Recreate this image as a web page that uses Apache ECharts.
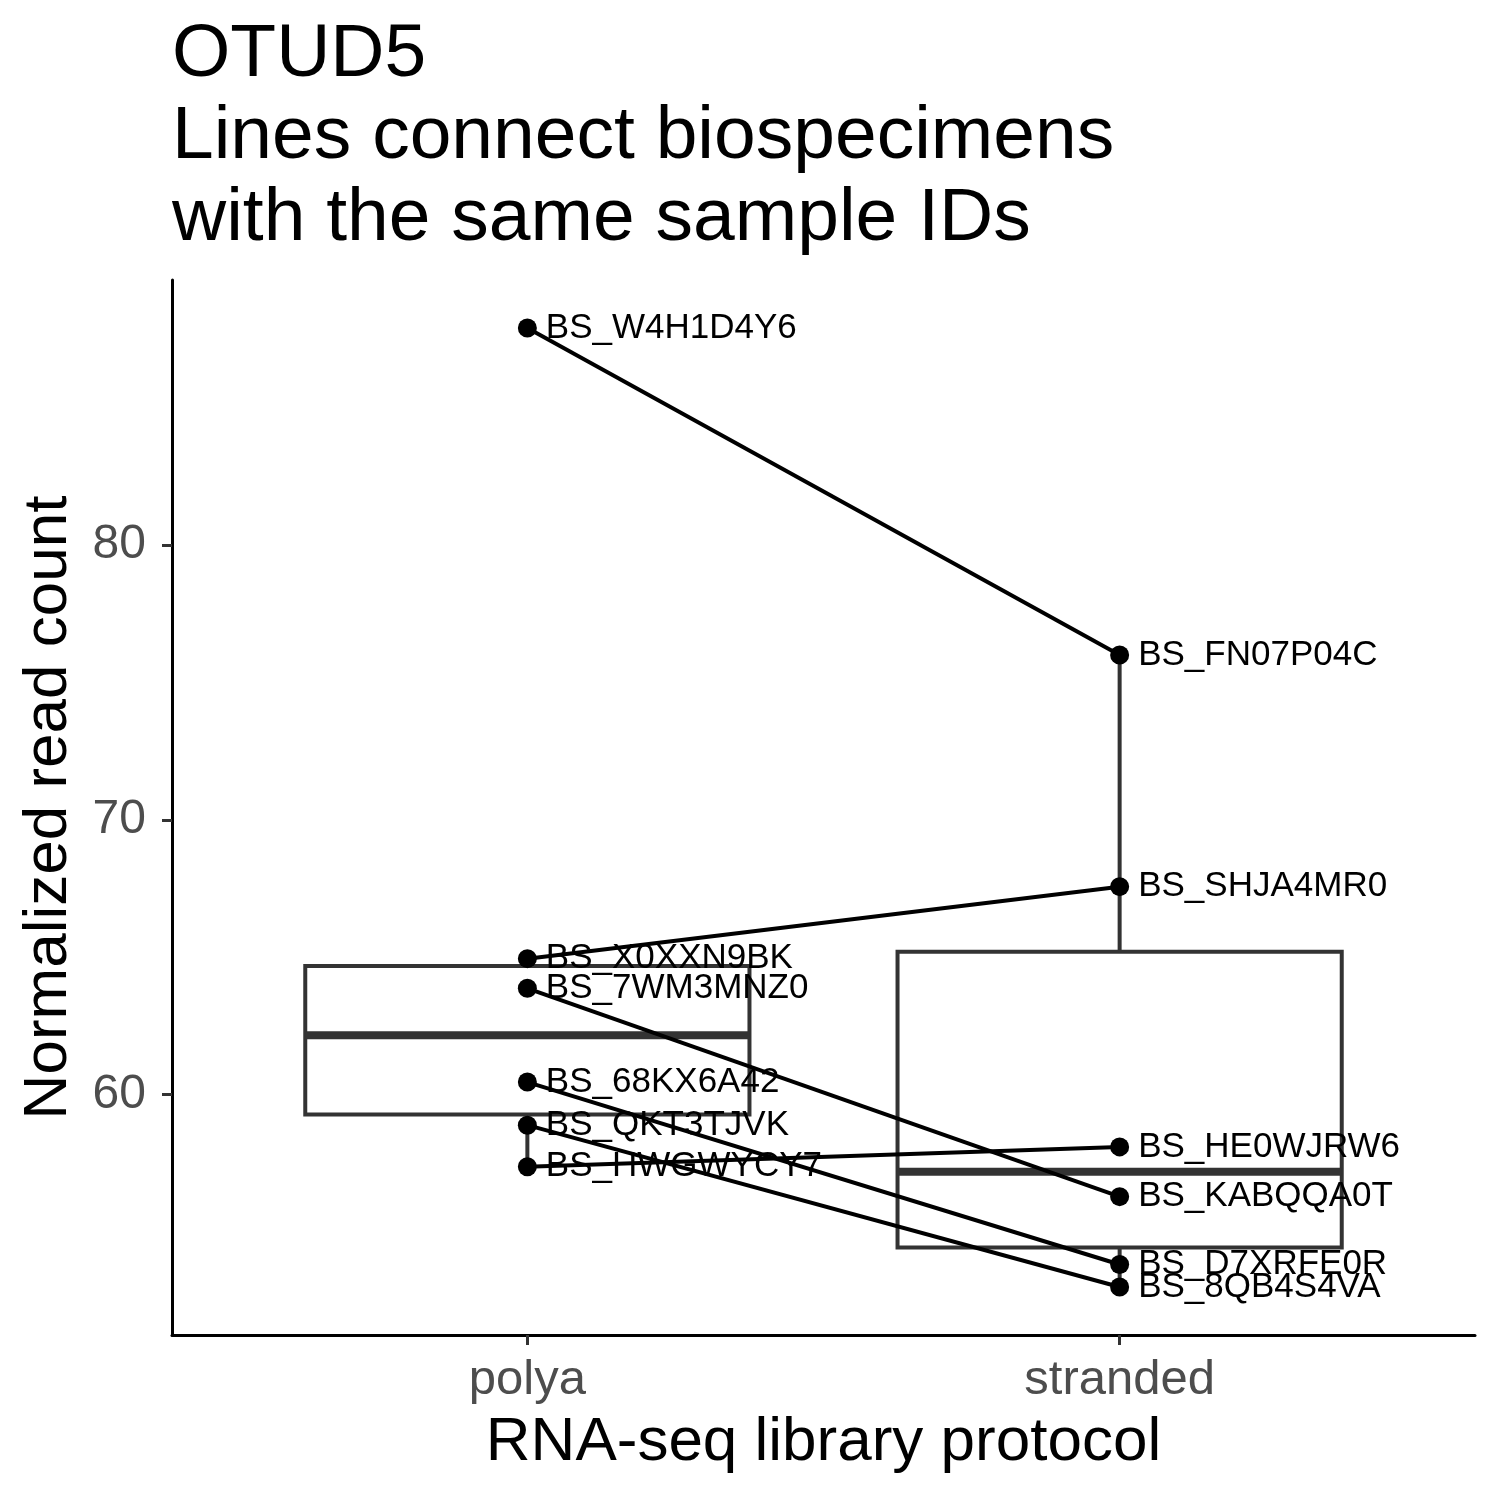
<!DOCTYPE html>
<html>
<head>
<meta charset="utf-8">
<script src="https://cdn.jsdelivr.net/npm/echarts@6/dist/echarts.min.js"></script>
<style>
html,body{margin:0;padding:0;background:#fff;}
#chart{width:1500px;height:1500px;}
</style>
</head>
<body>
<div id="chart"></div>
<script>
// ---- data ----
const categories = ['polya', 'stranded'];
const polyaIds = ['BS_W4H1D4Y6', 'BS_X0XXN9BK', 'BS_7WM3MNZ0', 'BS_68KX6A42', 'BS_QKT3TJVK', 'BS_HWGWYCY7'];
const polyaValues = [87.9, 64.95, 63.87, 60.46, 58.89, 57.38];
// stranded biospecimens paired (same index) with the polya ones
const strandedIds = ['BS_FN07P04C', 'BS_SHJA4MR0', 'BS_KABQQA0T', 'BS_D7XRFE0R', 'BS_8QB4S4VA', 'BS_HE0WJRW6'];
const strandedValues = [76.0, 67.57, 56.29, 53.82, 53.0, 58.1];
const yTicks = [60, 70, 80];
const xTicks = [1, 2];

const FONT = '"Liberation Sans", Arial, Helvetica, sans-serif';

function quantile(sorted, p) {
  const h = (sorted.length - 1) * p;
  const lo = Math.floor(h);
  const hiV = sorted[Math.min(lo + 1, sorted.length - 1)];
  return sorted[lo] + (h - lo) * (hiV - sorted[lo]);
}
function boxStats(x, values) {
  const s = values.slice().sort((a, b) => a - b);
  const q1 = quantile(s, 0.25), med = quantile(s, 0.5), q3 = quantile(s, 0.75);
  const iqr = q3 - q1;
  const lo = Math.min(...s.filter(v => v >= q1 - 1.5 * iqr));
  const hi = Math.max(...s.filter(v => v <= q3 + 1.5 * iqr));
  return [x, lo, q1, med, q3, hi];
}
const boxData = [boxStats(1, polyaValues), boxStats(2, strandedValues)];

const allVals = polyaValues.concat(strandedValues);
const dMin = Math.min(...allVals), dMax = Math.max(...allVals);
const pad = (dMax - dMin) * 0.05;

const pointData = [];
polyaIds.forEach((id, i) => pointData.push({ value: [1, polyaValues[i]], name: id }));
strandedIds.forEach((id, i) => pointData.push({ value: [2, strandedValues[i]], name: id }));

const pairSeries = polyaIds.map((id, i) => ({
  type: 'line',
  data: [[1, polyaValues[i]], [2, strandedValues[i]]],
  symbol: 'none',
  lineStyle: { color: '#000', width: 4, opacity: 1 },
  z: 3,
  silent: true,
  animation: false
}));

const chart = echarts.init(document.getElementById('chart'), null, { renderer: 'canvas' });
chart.setOption({
  animation: false,
  backgroundColor: '#fff',
  title: {
    text: 'OTUD5\nLines connect biospecimens\nwith the same sample IDs',
    left: 167,
    top: 9,
    textStyle: { fontFamily: FONT, fontSize: 75, lineHeight: 82, fontWeight: 'normal', color: '#000' }
  },
  grid: { left: 172, right: 25, top: 280, bottom: 165, containLabel: false },
  xAxis: {
    type: 'value',
    min: 0.4,
    max: 2.6,
    name: 'RNA-seq library protocol',
    nameLocation: 'middle',
    nameGap: 77,
    nameTextStyle: { fontFamily: FONT, fontSize: 62, color: '#000' },
    axisLine: { show: true, onZero: false, lineStyle: { color: '#000', width: 3 } },
    axisTick: { show: true, customValues: xTicks, length: 10, lineStyle: { color: '#333', width: 3 } },
    axisLabel: {
      show: true, customValues: xTicks, margin: 21,
      formatter: v => categories[Math.round(v) - 1] || '',
      fontFamily: FONT, fontSize: 49, color: '#4D4D4D'
    },
    splitLine: { show: false }
  },
  yAxis: {
    type: 'value',
    min: dMin - pad,
    max: dMax + pad,
    name: 'Normalized read count',
    nameLocation: 'middle',
    nameGap: 92,
    nameRotate: 90,
    nameTextStyle: { fontFamily: FONT, fontSize: 62, color: '#000' },
    axisLine: { show: true, onZero: false, lineStyle: { color: '#000', width: 3 } },
    axisTick: { show: true, customValues: yTicks, length: 10, lineStyle: { color: '#333', width: 3 } },
    axisLabel: {
      show: true, customValues: yTicks, margin: 26,
      fontFamily: FONT, fontSize: 48, color: '#4D4D4D'
    },
    splitLine: { show: false }
  },
  series: [
    {
      type: 'custom',
      data: boxData,
      encode: { x: 0, y: [1, 2, 3, 4, 5] },
      z: 2,
      silent: true,
      renderItem: function (params, api) {
        const x = api.value(0), lo = api.value(1), q1 = api.value(2), med = api.value(3), q3 = api.value(4), hi = api.value(5);
        const hw = 0.375;
        const tl = api.coord([x - hw, q3]);
        const br = api.coord([x + hw, q1]);
        const mL = api.coord([x - hw, med]), mR = api.coord([x + hw, med]);
        const pTop = api.coord([x, q3]), pHi = api.coord([x, hi]);
        const pBot = api.coord([x, q1]), pLo = api.coord([x, lo]);
        const st = { stroke: '#333333', lineWidth: 4 };
        return {
          type: 'group',
          children: [
            { type: 'line', shape: { x1: pTop[0], y1: pTop[1], x2: pHi[0], y2: pHi[1] }, style: st },
            { type: 'line', shape: { x1: pBot[0], y1: pBot[1], x2: pLo[0], y2: pLo[1] }, style: st },
            { type: 'rect', shape: { x: tl[0], y: tl[1], width: br[0] - tl[0], height: br[1] - tl[1] }, style: { fill: '#fff', stroke: '#333333', lineWidth: 4 } },
            { type: 'line', shape: { x1: mL[0], y1: mL[1], x2: mR[0], y2: mR[1] }, style: { stroke: '#333333', lineWidth: 8 } }
          ]
        };
      }
    },
    ...pairSeries,
    {
      type: 'scatter',
      data: pointData,
      symbol: 'circle',
      symbolSize: 19,
      itemStyle: { color: '#000', opacity: 1 },
      z: 5,
      label: {
        show: true,
        position: 'right',
        distance: 9,
        offset: [0, 3],
        formatter: p => p.name,
        fontFamily: FONT,
        fontSize: 35,
        color: '#000',
        opacity: 1
      },
      labelLayout: { hideOverlap: false }
    }
  ]
});
</script>
</body>
</html>
